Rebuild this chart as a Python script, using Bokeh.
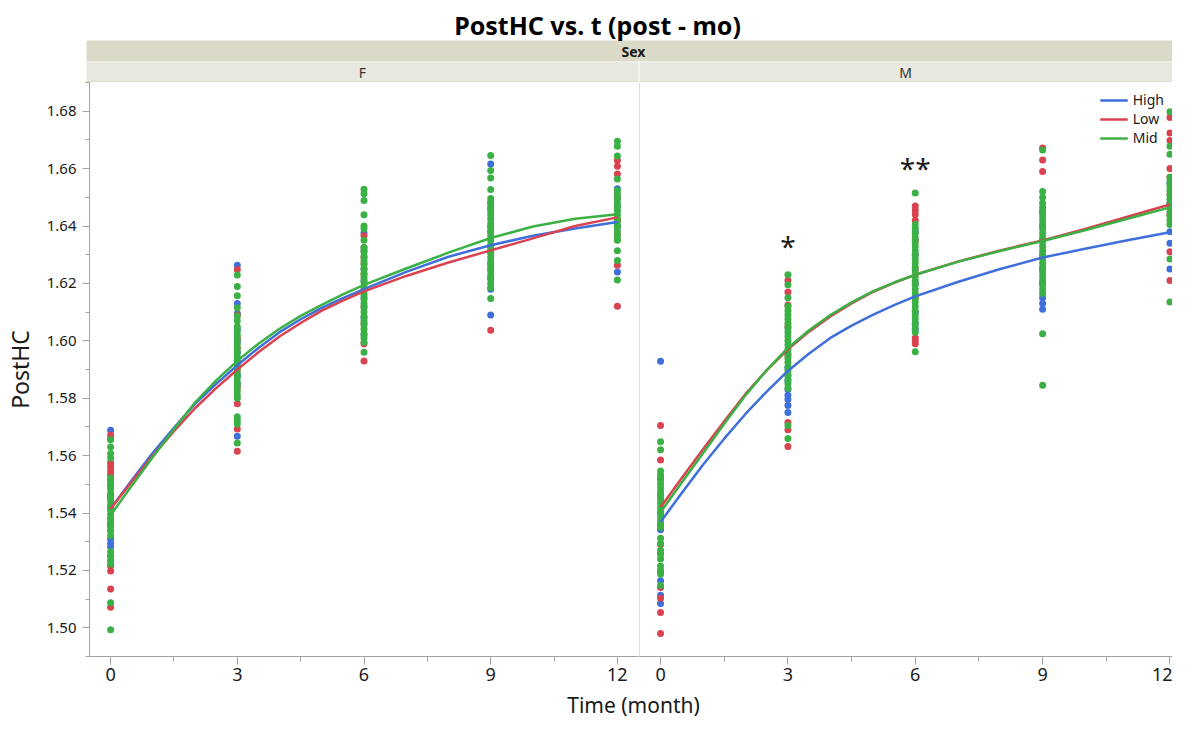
from bokeh.plotting import figure
from bokeh.layouts import column, row
from bokeh.models import Range1d, FixedTicker, Legend, LegendItem, Span, PrintfTickFormatter
from bokeh.embed import file_html
from bokeh.resources import INLINE
from bokeh.core.properties import value

FONT = "Noto Sans"
TITLE = "PostHC vs. t (post - mo)"
STRIP_TITLE = "Sex"
PANELS = ["F", "M"]
GROUPS = ["High", "Low", "Mid"]
COLORS = {"High": "#3F6FDB", "Low": "#D9424F", "Mid": "#3BB145"}
X_LABEL = "Time (month)"
Y_LABEL = "PostHC"
X_TICKS = [0, 3, 6, 9, 12]
X_MINOR = [1.5, 4.5, 7.5, 10.5]
Y_TICKS = [1.50, 1.52, 1.54, 1.56, 1.58, 1.60, 1.62, 1.64, 1.66, 1.68]
Y_MINOR = [1.49, 1.51, 1.53, 1.55, 1.57, 1.59, 1.61, 1.63, 1.65, 1.67, 1.69]

# ---- observed points (month -> values) ----
F_HIGH = {
    0: [1.5688, 1.5515, 1.5497, 1.5462, 1.5420, 1.5310, 1.5295, 1.5282, 1.5380],
    3: [1.6263, 1.6130, 1.6095, 1.6040, 1.5960, 1.5880, 1.5850, 1.5667, 1.6000],
    6: [1.6376, 1.6315, 1.6210, 1.6150, 1.6080, 1.6020, 1.6250],
    9: [1.6616, 1.6480, 1.6400, 1.6330, 1.6250, 1.6180, 1.6090],
    12: [1.6530, 1.6470, 1.6400, 1.6240],
}
F_LOW = {
    0: [1.5672, 1.5660, 1.5575, 1.5562, 1.5548, 1.5535, 1.5450, 1.5360, 1.5250, 1.5215, 1.5198, 1.5135, 1.5072],
    3: [1.6248, 1.6090, 1.6010, 1.5930, 1.5900, 1.5781, 1.5693, 1.5615, 1.5840, 1.5975],
    6: [1.6366, 1.6325, 1.6290, 1.6270, 1.6230, 1.6180, 1.6120, 1.6060, 1.5990, 1.5930],
    9: [1.6460, 1.6380, 1.6310, 1.6270, 1.6220, 1.6037],
    12: [1.6628, 1.6608, 1.6581, 1.6500, 1.6420, 1.6370, 1.6263, 1.6120],
}
F_MID = {
    0: [1.5655, 1.5630, 1.5607, 1.5592, 1.5522, 1.5505, 1.5485, 1.5470, 1.5455, 1.5440, 1.5425, 1.5410,
        1.5395, 1.5380, 1.5365, 1.5350, 1.5338, 1.5322, 1.5265, 1.5250, 1.5235, 1.5222, 1.5087, 1.4993],
    3: [1.6229, 1.6189, 1.6157, 1.6115, 1.6086, 1.6070, 1.6050, 1.6035, 1.6020, 1.6005, 1.5990, 1.5975,
        1.5960, 1.5945, 1.5930, 1.5915, 1.5900, 1.5885, 1.5870, 1.5855, 1.5840, 1.5825, 1.5810, 1.5800,
        1.5735, 1.5722, 1.5710, 1.5644],
    6: [1.6528, 1.6512, 1.6489, 1.6439, 1.6400, 1.6390, 1.6350, 1.6325, 1.6310, 1.6295, 1.6280, 1.6265,
        1.6250, 1.6235, 1.6220, 1.6205, 1.6190, 1.6175, 1.6160, 1.6145, 1.6130, 1.6115, 1.6100, 1.6085,
        1.6070, 1.6055, 1.6040, 1.6025, 1.6010, 1.5995, 1.5960],
    9: [1.6646, 1.6593, 1.6567, 1.6527, 1.6496, 1.6482, 1.6468, 1.6454, 1.6440, 1.6425, 1.6410, 1.6395,
        1.6380, 1.6365, 1.6350, 1.6335, 1.6320, 1.6305, 1.6290, 1.6275, 1.6260, 1.6245, 1.6230, 1.6215,
        1.6200, 1.6185, 1.6147],
    12: [1.6695, 1.6678, 1.6644, 1.6564, 1.6524, 1.6510, 1.6496, 1.6482, 1.6468, 1.6454, 1.6440, 1.6426,
         1.6412, 1.6398, 1.6384, 1.6370, 1.6356, 1.6350, 1.6314, 1.6280, 1.6212],
}
M_HIGH = {
    0: [1.5929, 1.5342, 1.5198, 1.5164, 1.5113, 1.5085, 1.5400, 1.5260],
    3: [1.5905, 1.5880, 1.5860, 1.5830, 1.5810, 1.5796, 1.5775, 1.5750],
    6: [1.6380, 1.6300, 1.6200, 1.6100, 1.6060, 1.6040],
    9: [1.6450, 1.6350, 1.6250, 1.6150, 1.6130, 1.6110],
    12: [1.6550, 1.6480, 1.6380, 1.6340, 1.6250],
}
M_LOW = {
    0: [1.5705, 1.5585, 1.5520, 1.5460, 1.5360, 1.5290, 1.5140, 1.5103, 1.5053, 1.4980],
    3: [1.6210, 1.6170, 1.6125, 1.6050, 1.5950, 1.5715, 1.5690, 1.5632],
    6: [1.6470, 1.6455, 1.6440, 1.6420, 1.6350, 1.6250, 1.6150, 1.6010, 1.6000, 1.5990],
    9: [1.6672, 1.6630, 1.6590, 1.6450, 1.6400, 1.6300, 1.6200],
    12: [1.6778, 1.6724, 1.6698, 1.6600, 1.6570, 1.6510, 1.6440, 1.6310, 1.6210],
}
M_MID = {
    0: [1.5648, 1.5620, 1.5546, 1.5532, 1.5518, 1.5504, 1.5490, 1.5476, 1.5462, 1.5448, 1.5434, 1.5420,
        1.5406, 1.5392, 1.5378, 1.5364, 1.5350, 1.5312, 1.5295, 1.5270, 1.5255, 1.5240, 1.5215, 1.5200,
        1.5187, 1.5147],
    3: [1.6230, 1.6195, 1.6150, 1.6120, 1.6105, 1.6090, 1.6075, 1.6060, 1.6045, 1.6030, 1.6015, 1.6000,
        1.5985, 1.5970, 1.5955, 1.5940, 1.5925, 1.5910, 1.5895, 1.5880, 1.5865, 1.5850, 1.5835, 1.5705,
        1.5660],
    6: [1.6515, 1.6405, 1.6390, 1.6375, 1.6360, 1.6345, 1.6330, 1.6315, 1.6300, 1.6285, 1.6270, 1.6255,
        1.6240, 1.6225, 1.6210, 1.6195, 1.6180, 1.6165, 1.6150, 1.6135, 1.6120, 1.6105, 1.6090, 1.6075,
        1.6060, 1.6045, 1.6030, 1.5962],
    9: [1.6665, 1.6520, 1.6500, 1.6480, 1.6465, 1.6450, 1.6435, 1.6420, 1.6405, 1.6390, 1.6375, 1.6360,
        1.6345, 1.6330, 1.6315, 1.6300, 1.6285, 1.6270, 1.6255, 1.6240, 1.6225, 1.6210, 1.6195, 1.6180,
        1.6165, 1.6025, 1.5845],
    12: [1.6798, 1.6678, 1.6650, 1.6570, 1.6555, 1.6540, 1.6525, 1.6510, 1.6495, 1.6480, 1.6465, 1.6450,
         1.6435, 1.6420, 1.6405, 1.6285, 1.6135],
}

# ---- fitted curves ----
CURVE_T = [0, 0.5, 1, 1.5, 2, 2.5, 3, 3.5, 4, 4.5, 5, 5.5, 6, 7, 8, 9, 10, 11, 12]
F_HIGH_FIT = [1.5415, 1.5514, 1.5610, 1.5697, 1.5780, 1.5850, 1.5915, 1.5975, 1.6030, 1.6075,
              1.6115, 1.6149, 1.6180, 1.6240, 1.6293, 1.6333, 1.6366, 1.6391, 1.6414]
F_LOW_FIT = [1.5415, 1.5509, 1.5600, 1.5685, 1.5765, 1.5835, 1.5900, 1.5960, 1.6015, 1.6062,
             1.6105, 1.6140, 1.6172, 1.6226, 1.6273, 1.6315, 1.6357, 1.6400, 1.6430]
F_MID_FIT = [1.5393, 1.5495, 1.5595, 1.5692, 1.5785, 1.5862, 1.5930, 1.5990, 1.6042, 1.6087,
             1.6125, 1.6162, 1.6195, 1.6252, 1.6307, 1.6358, 1.6398, 1.6425, 1.6441]
M_HIGH_FIT = [1.5369, 1.5470, 1.5568, 1.5659, 1.5745, 1.5823, 1.5895, 1.5956, 1.6010, 1.6053,
              1.6090, 1.6124, 1.6155, 1.6205, 1.6250, 1.6290, 1.6321, 1.6350, 1.6378]
M_LOW_FIT = [1.5420, 1.5522, 1.5622, 1.5720, 1.5815, 1.5897, 1.5970, 1.6032, 1.6085, 1.6130,
             1.6170, 1.6202, 1.6230, 1.6276, 1.6315, 1.6350, 1.6390, 1.6432, 1.6475]
M_MID_FIT = [1.5403, 1.5506, 1.5608, 1.5711, 1.5810, 1.5898, 1.5975, 1.6037, 1.6090, 1.6134,
             1.6172, 1.6203, 1.6230, 1.6275, 1.6313, 1.6348, 1.6385, 1.6425, 1.6465]

# significance marks in the M panel
STAR_T = [3, 6]
STAR_Y = [1.6330, 1.6603]
STAR_TEXT = ["*", "**"]

POINTS = {"F": {"High": F_HIGH, "Low": F_LOW, "Mid": F_MID},
          "M": {"High": M_HIGH, "Low": M_LOW, "Mid": M_MID}}
FITS = {"F": {"High": F_HIGH_FIT, "Low": F_LOW_FIT, "Mid": F_MID_FIT},
        "M": {"High": M_HIGH_FIT, "Low": M_LOW_FIT, "Mid": M_MID_FIT}}

# ---- layout sizes ----
LEFT_BORDER = 86
FRAME_F = 552
FRAME_M = 534
FRAME_H = 574
BOTTOM_BORDER = 34
HEADER_H = 82
FOOTER_H = 30
TOTAL_W = LEFT_BORDER + FRAME_F + FRAME_M

AXIS_COLOR = "#A3A3A3"
TEXT_COLOR = "#1A1A1A"


def style_x(p):
    ax = p.xaxis[0]
    ax.ticker = FixedTicker(ticks=X_TICKS, minor_ticks=X_MINOR)
    ax.axis_line_color = AXIS_COLOR
    ax.major_tick_line_color = AXIS_COLOR
    ax.minor_tick_line_color = AXIS_COLOR
    ax.major_tick_out = 8
    ax.major_tick_in = 0
    ax.minor_tick_out = 5
    ax.minor_tick_in = 0
    ax.major_label_standoff = 3
    ax.major_label_text_font = FONT
    ax.major_label_text_font_size = "18px"
    ax.major_label_text_color = TEXT_COLOR


def make_panel(sex, width, x_range, with_y):
    p = figure(width=width, height=FRAME_H + BOTTOM_BORDER,
               x_range=x_range, y_range=Range1d(1.49, 1.69),
               output_backend="svg", toolbar_location=None,
               y_axis_location="left" if with_y else None,
               min_border_left=LEFT_BORDER if with_y else 0, min_border_right=0,
               min_border_top=0, min_border_bottom=BOTTOM_BORDER)
    p.outline_line_color = None
    p.grid.visible = False
    p.background_fill_color = "white"
    p.border_fill_color = "white"
    style_x(p)
    if with_y:
        ay = p.yaxis[0]
        ay.ticker = FixedTicker(ticks=Y_TICKS, minor_ticks=Y_MINOR)
        ay.formatter = PrintfTickFormatter(format="%.2f")
        ay.axis_line_color = AXIS_COLOR
        ay.major_tick_line_color = AXIS_COLOR
        ay.minor_tick_line_color = AXIS_COLOR
        ay.major_tick_out = 7
        ay.major_tick_in = 0
        ay.minor_tick_out = 4
        ay.minor_tick_in = 0
        ay.major_label_standoff = 6
        ay.major_label_text_font = FONT
        ay.major_label_text_font_size = "15px"
        ay.major_label_text_color = TEXT_COLOR
        ay.axis_label = Y_LABEL
        ay.axis_label_text_font = FONT
        ay.axis_label_text_font_size = "23px"
        ay.axis_label_text_font_style = "normal"
        ay.axis_label_text_color = TEXT_COLOR
        ay.axis_label_standoff = 8
    else:
        p.add_layout(Span(location=-0.5, dimension="height", line_color="#D6D6D6", line_width=1))

    for g in GROUPS:
        xs, ys = [], []
        for t in X_TICKS:
            for v in POINTS[sex][g][t]:
                xs.append(t)
                ys.append(v)
        p.scatter(xs, ys, size=7, fill_color=COLORS[g], line_color=None)
    lines = {}
    for g in GROUPS:
        lines[g] = p.line(CURVE_T, FITS[sex][g], line_color=COLORS[g], line_width=2.5,
                          line_join="round")
    return p, lines


pF, _ = make_panel("F", LEFT_BORDER + FRAME_F, Range1d(-0.5, 12.5), True)
pM, linesM = make_panel("M", FRAME_M, Range1d(-0.52, 12.06), False)

pM.text(x=STAR_T, y=STAR_Y, text=STAR_TEXT, text_font=value(FONT), text_font_size="28px",
        text_color=TEXT_COLOR, text_align="center", text_baseline="alphabetic")

legend = Legend(items=[LegendItem(label=g, renderers=[linesM[g]]) for g in GROUPS],
                location="top_right")
legend.label_text_font = FONT
legend.label_text_font_size = "14px"
legend.label_text_color = TEXT_COLOR
legend.glyph_width = 28
legend.glyph_height = 16
legend.label_height = 16
legend.spacing = 0
legend.padding = 4
legend.margin = 8
legend.label_standoff = 5
legend.background_fill_alpha = 0
legend.border_line_color = None
pM.add_layout(legend)

# ---- header: title + strips ----
header = figure(width=TOTAL_W, height=HEADER_H, x_range=Range1d(0, TOTAL_W),
                y_range=Range1d(HEADER_H, 0), output_backend="svg", toolbar_location=None,
                min_border=0)
header.axis.visible = False
header.grid.visible = False
header.outline_line_color = None
S1_TOP, S1_BOT, S2_BOT = 40, 61, 82
header.quad(left=[LEFT_BORDER], right=[TOTAL_W], top=[S1_TOP], bottom=[S1_BOT],
            fill_color="#DBD9C8", line_color=None)
header.quad(left=[LEFT_BORDER, LEFT_BORDER + FRAME_F], right=[LEFT_BORDER + FRAME_F, TOTAL_W],
            top=[S1_BOT, S1_BOT], bottom=[S2_BOT, S2_BOT], fill_color="#E8E8E0", line_color=None)
header.segment(x0=[LEFT_BORDER], y0=[S1_BOT + 0.5], x1=[TOTAL_W], y1=[S1_BOT + 0.5],
               line_color="#F2F2EC", line_width=1)
header.segment(x0=[LEFT_BORDER], y0=[S2_BOT - 0.5], x1=[TOTAL_W], y1=[S2_BOT - 0.5],
               line_color="#CFCFC2", line_width=1)
header.segment(x0=[LEFT_BORDER + FRAME_F + 0.5], y0=[S1_BOT], x1=[LEFT_BORDER + FRAME_F + 0.5], y1=[S2_BOT],
               line_color="#F7F7F2", line_width=1.5)
header.text(x=[597], y=[24], text=[TITLE], text_font=value(FONT), text_font_style="bold",
            text_font_size="25px", text_color="black", text_align="center", text_baseline="middle")
header.text(x=[633], y=[(S1_TOP + S1_BOT) / 2], text=[STRIP_TITLE], text_font=value(FONT),
            text_font_style="bold", text_font_size="14px", text_color=TEXT_COLOR,
            text_align="center", text_baseline="middle")
header.text(x=[LEFT_BORDER + FRAME_F / 2, LEFT_BORDER + FRAME_F + FRAME_M / 2],
            y=[(S1_BOT + S2_BOT) / 2] * 2, text=PANELS,
            text_font=value(FONT), text_font_size="14px", text_color="#333333",
            text_align="center", text_baseline="middle")

# ---- footer: x axis title ----
footer = figure(width=TOTAL_W, height=FOOTER_H, x_range=Range1d(0, TOTAL_W),
                y_range=Range1d(FOOTER_H, 0), output_backend="svg", toolbar_location=None,
                min_border=0)
footer.axis.visible = False
footer.grid.visible = False
footer.outline_line_color = None
footer.text(x=[633], y=[14], text=[X_LABEL], text_font=value(FONT), text_font_size="21px",
            text_color=TEXT_COLOR, text_align="center", text_baseline="middle")

layout = column(header, row(pF, pM), footer)
open("out.html", "w").write(file_html(layout, INLINE))
